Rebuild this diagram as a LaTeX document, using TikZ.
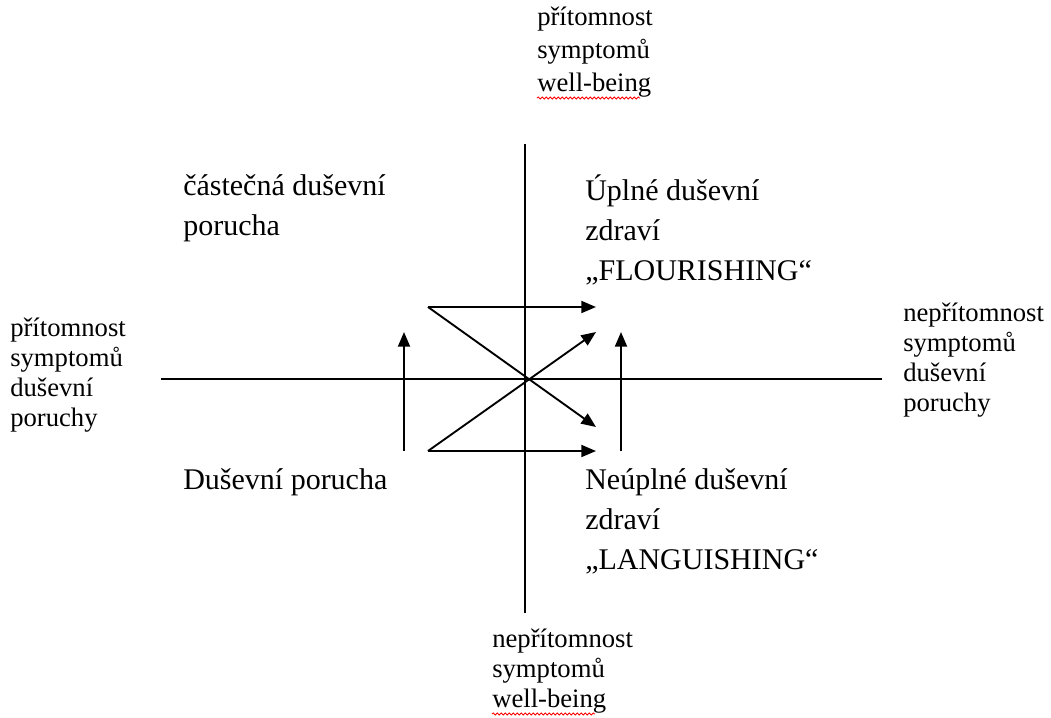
\documentclass[tikz,border=0pt]{standalone}
\usepackage{fontspec}
\setmainfont{Liberation Serif}
\usetikzlibrary{arrows.meta,decorations.pathmorphing}
\begin{document}
\begin{tikzpicture}[x=0.75pt,y=-0.75pt,
  lbl/.style={font=\fontsize{20}{22.5}\selectfont, align=left, anchor=north west, inner sep=0pt},
  toplbl/.style={lbl, font=\fontsize{20}{24.5}\selectfont},
  quad/.style={font=\fontsize{22.5}{30}\selectfont, align=left, anchor=north west, inner sep=0pt},
  axis/.style={line width=1.5pt},
  arr/.style={line width=1.4pt,-{Triangle[length=11pt,width=9pt]}},
  spell/.style={red, line width=0.6pt, decorate, decoration={snake, amplitude=0.8pt, segment length=3pt}}]
\useasboundingbox (0,0) rectangle (1051,718);
% axes
\coordinate (xl) at (161,379);
\coordinate (xr) at (882,379);
\coordinate (yt) at (525,144);
\coordinate (yb) at (525,613);
\draw[axis] (xl) -- (xr);
\draw[axis] (yt) -- (yb);
% arrows
\coordinate (s1) at (428,307);
\coordinate (s2) at (428,451);
\coordinate (e1) at (596,307);
\coordinate (e2) at (596,427);
\coordinate (e3) at (596,451);
\coordinate (e4) at (596,332);
\coordinate (v1s) at (404,451);
\coordinate (v1e) at (404,332);
\coordinate (v2s) at (621,451);
\coordinate (v2e) at (621,332);
\draw[arr] (s1) -- (e1);
\draw[arr] (s1) -- (e2);
\draw[arr] (s2) -- (e3);
\draw[arr] (s2) -- (e4);
\draw[arr] (v1s) -- (v1e);
\draw[arr] (v2s) -- (v2e);
% quadrant texts
\node[quad] (q1) at (183,174) {částečná duševní\\porucha};
\node[quad] (q2) at (585,174) {Úplné duševní\\zdraví\\„FLOURISHING“};
\node[quad] (q3) at (183,468) {Duševní porucha};
\node[quad] (q4) at (585,468) {Neúplné duševní\\zdraví\\„LANGUISHING“};
% axis labels
\node[toplbl] (top) at (537,7) {přítomnost\\symptomů\\well-being};
\node[lbl] (bot) at (492,629) {nepřítomnost\\symptomů\\well-being};
\node[lbl] (lft) at (10,318) {přítomnost\\symptomů\\duševní\\poruchy};
\node[lbl] (rgt) at (903,303) {nepřítomnost\\symptomů\\duševní\\poruchy};
% spell-check marks
\coordinate (w1a) at (537,98);
\coordinate (w1b) at (640,98);
\coordinate (w2a) at (492,714);
\coordinate (w2b) at (595,714);
\draw[spell] (w1a) -- (w1b);
\draw[spell] (w2a) -- (w2b);
\end{tikzpicture}
\end{document}
